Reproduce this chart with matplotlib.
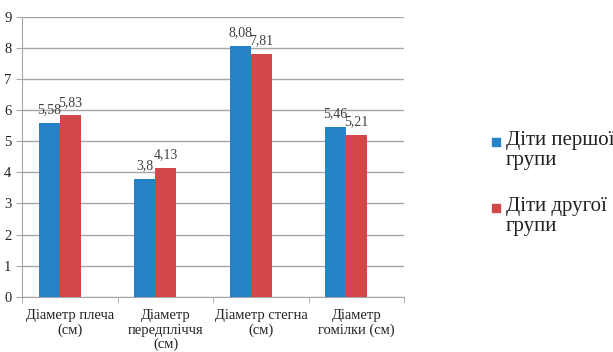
import numpy as np
import matplotlib.pyplot as plt
from matplotlib.patches import Rectangle

plt.rcParams['font.family'] = ['Liberation Serif', 'DejaVu Serif']

categories = ['Діаметр плеча\n(см)', 'Діаметр\nпередпліччя\n(см)',
              'Діаметр стегна\n(см)', 'Діаметр\nгомілки (см)']
group1 = [5.58, 3.8, 8.08, 5.46]
group2 = [5.83, 4.13, 7.81, 5.21]
series_names = ['Діти першої\nгрупи', 'Діти другої\nгрупи']

blue = '#2783C8'
red = '#D24748'
grid_col = '#A6A6A6'
text_col = '#404040'

fig = plt.figure(figsize=(6.13, 3.52), dpi=100)
ax = fig.add_axes([0.0367, 0.157, 0.623, 0.795])

x = np.arange(len(categories))
w = 0.22
bars1 = ax.bar(x - w, group1, width=w, color=blue, zorder=3)
bars2 = ax.bar(x, group2, width=w, color=red, zorder=3)

# value labels with comma decimals
def fmt(v):
    return f'{v:g}'.replace('.', ',')

for bars, vals in [(bars1, group1), (bars2, group2)]:
    for b, v in zip(bars, vals):
        ax.annotate(fmt(v), (b.get_x() + b.get_width() / 2, v),
                    xytext=(0, 7), textcoords='offset points',
                    ha='center', va='baseline', fontsize=10, color=text_col, zorder=4)

ax.set_xlim(-0.5, len(categories) - 0.5)
ax.set_ylim(0, 9)
ax.set_yticks(range(10))
ax.yaxis.grid(True, color=grid_col, linewidth=1, zorder=0)

ax.set_xticks(x)
ax.set_xticklabels(categories, fontsize=10.5, linespacing=1.13, color='#222222')
ax.set_xticks(np.arange(-0.5, len(categories)), minor=True)
ax.tick_params(axis='x', which='major', length=0, pad=9)
ax.tick_params(axis='x', which='minor', length=4, color=grid_col)
ax.tick_params(axis='y', length=4, color=grid_col, labelsize=10.5, pad=4,
               labelcolor='#222222')

for side in ['top', 'right']:
    ax.spines[side].set_visible(False)
for side in ['left', 'bottom']:
    ax.spines[side].set_color(grid_col)

# legend on the right: small square + two-line label
W, H = 613, 352
for i, (name, col) in enumerate(zip(series_names, [blue, red])):
    cy = 142 + i * 66
    fig.patches.append(Rectangle((492 / W, 1 - (cy + 4) / H), 8 / W, 8 / H,
                                 transform=fig.transFigure, color=col))
    fig.text(506 / W, 1 - (cy - 11) / H, name, fontsize=15, va='top', ha='left',
             linespacing=1.05, color='#222222')

fig.savefig('out.png', dpi=100)
